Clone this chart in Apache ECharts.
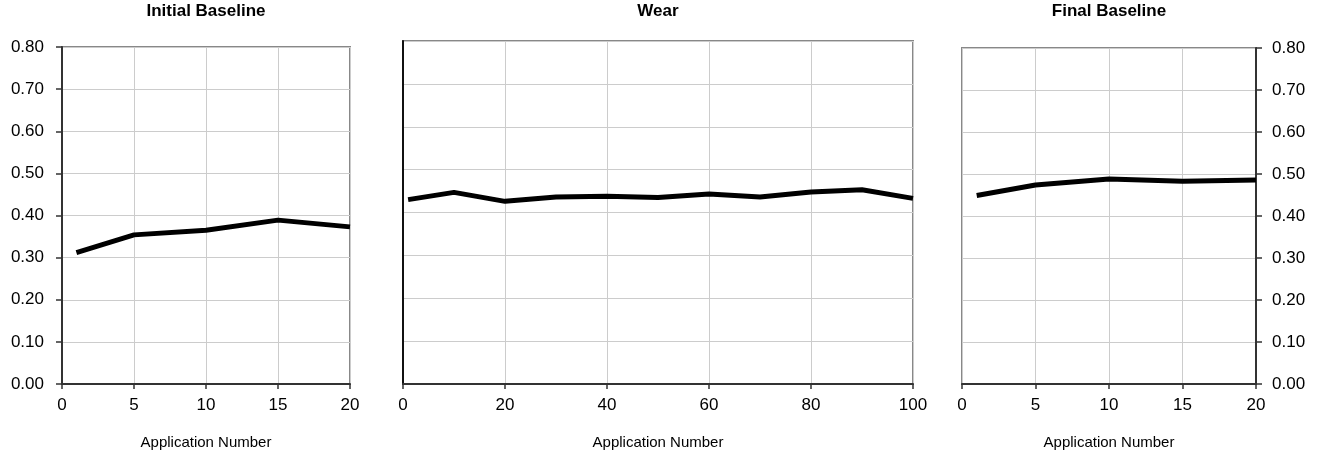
<!DOCTYPE html>
<html>
<head>
<meta charset="utf-8">
<script src="https://cdn.jsdelivr.net/npm/echarts@6/dist/echarts.min.js"></script>
<style>
html,body{margin:0;padding:0;background:#fff;}
#chart{width:1323px;height:460px;}
</style>
</head>
<body>
<div id="chart"></div>
<script>
// Panel titles
const panelTitles = ['Initial Baseline', 'Wear', 'Final Baseline'];
const xAxisName = 'Application Number';

// Initial Baseline
const initialX = [1, 5, 10, 15, 20];
const initialY = [0.312, 0.354, 0.365, 0.389, 0.373];

// Wear
const wearX = [1, 10, 20, 30, 40, 50, 60, 70, 80, 90, 100];
const wearY = [0.430, 0.447, 0.426, 0.436, 0.438, 0.435, 0.443, 0.436, 0.448, 0.453, 0.433];

// Final Baseline
const finalX = [1, 5, 10, 15, 20];
const finalY = [0.449, 0.474, 0.488, 0.483, 0.486];

// Axis ranges / ticks
const yMin = 0, yMax = 0.8, yStep = 0.1;
const baseXMax = 20, baseXStep = 5;
const wearXMax = 100, wearXStep = 20;

const pairs = (xs, ys) => xs.map((x, i) => [x, ys[i]]);

const FONT = '"Liberation Sans", Arial, sans-serif';
const grids = [
  {left: 62, top: 47, width: 288, height: 337},
  {left: 403, top: 41, width: 510, height: 343},
  {left: 962, top: 48, width: 294, height: 336}
];
const centers = grids.map(g => g.left + g.width / 2);

function xAxis(idx, max, step) {
  return {
    type: 'value', gridIndex: idx, min: 0, max: max, interval: step,
    name: xAxisName, nameLocation: 'middle', nameGap: 51,
    nameTextStyle: {fontFamily: FONT, fontSize: 15, color: '#000'},
    axisLine: {show: true, onZero: false, lineStyle: {color: '#333', width: 2}},
    axisTick: {show: true, length: 5, lineStyle: {color: '#333', width: 1.5}},
    axisLabel: {fontFamily: FONT, fontSize: 17, color: '#000', margin: 13},
    splitLine: {show: true, lineStyle: {color: '#cccccc', width: 1}}
  };
}
function yAxis(idx, pos, showLabels) {
  return {
    type: 'value', gridIndex: idx, min: yMin, max: yMax, interval: yStep, position: pos,
    axisLine: {show: true, onZero: false, lineStyle: {color: idx === 1 ? '#111' : '#333', width: 2}},
    axisTick: {show: showLabels, length: 6, lineStyle: {color: '#333', width: 1.5}},
    axisLabel: {show: showLabels, fontFamily: FONT, fontSize: 17, color: '#000',
      margin: pos === 'left' ? 18 : 16, formatter: v => v.toFixed(2)},
    splitLine: {show: true, lineStyle: {color: '#cccccc', width: 1}}
  };
}

const chart = echarts.init(document.getElementById('chart'), null, {renderer: 'canvas'});
chart.setOption({
  animation: false,
  backgroundColor: '#fff',
  title: panelTitles.map((t, i) => ({
    text: t, left: centers[i], top: 3, textAlign: 'center', padding: 0,
    textStyle: {fontFamily: FONT, fontSize: 17, fontWeight: 'bold', color: '#000'}
  })),
  grid: grids.map(g => Object.assign({show: true, borderColor: '#888', borderWidth: 2, backgroundColor: 'transparent'}, g)),
  xAxis: [xAxis(0, baseXMax, baseXStep), xAxis(1, wearXMax, wearXStep), xAxis(2, baseXMax, baseXStep)],
  yAxis: [yAxis(0, 'left', true), yAxis(1, 'left', false), yAxis(2, 'right', true)],
  series: [
    {type: 'line', xAxisIndex: 0, yAxisIndex: 0, data: pairs(initialX, initialY)},
    {type: 'line', xAxisIndex: 1, yAxisIndex: 1, data: pairs(wearX, wearY)},
    {type: 'line', xAxisIndex: 2, yAxisIndex: 2, data: pairs(finalX, finalY)}
  ].map(s => Object.assign(s, {
    showSymbol: false, symbol: 'none', smooth: false,
    lineStyle: {color: '#000', width: 5}, itemStyle: {color: '#000'}
  }))
});
</script>
</body>
</html>
